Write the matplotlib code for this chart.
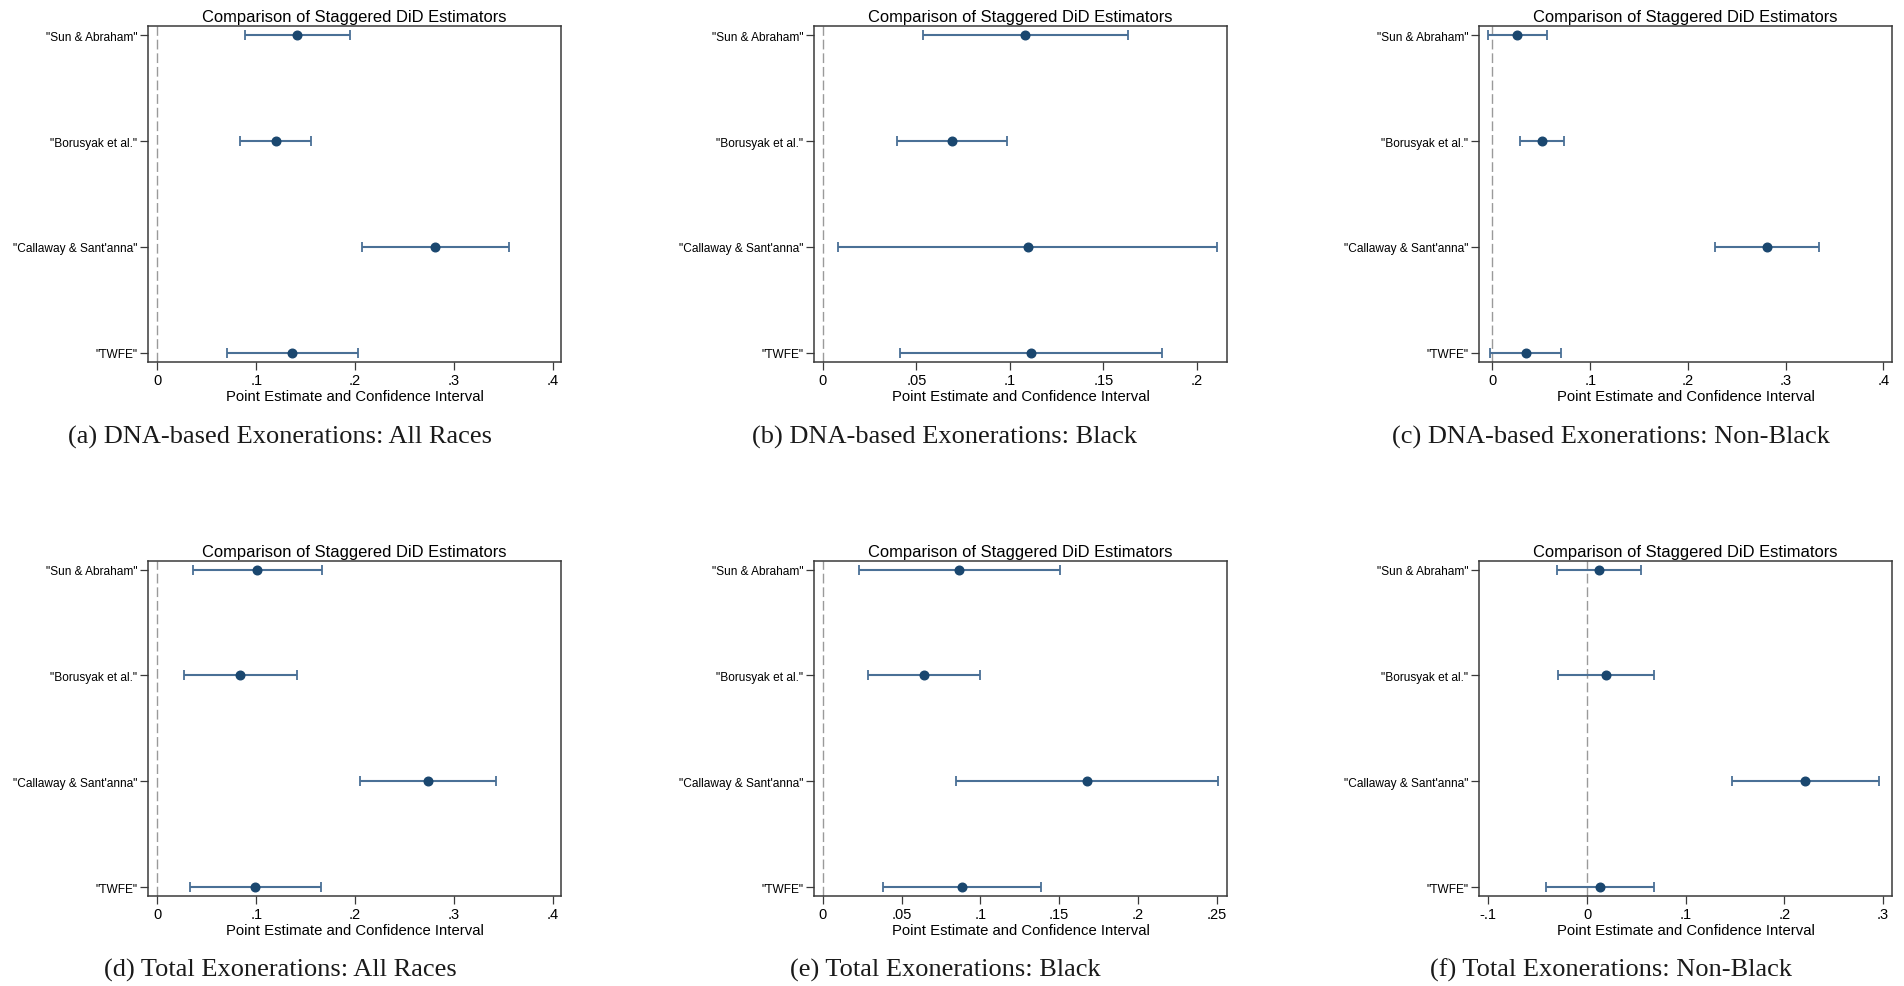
import matplotlib
matplotlib.use("Agg")
import matplotlib.pyplot as plt
from matplotlib.ticker import FixedLocator, FuncFormatter

# ---------------- data ----------------
estimators = ['"Sun & Abraham"', '"Borusyak et al."', '"Callaway & Sant\'anna"', '"TWFE"']

# (a) DNA-based Exonerations: All Races
est_a = [0.1417, 0.1197, 0.2809, 0.1363]
lo_a = [0.0890, 0.0837, 0.2067, 0.0704]
hi_a = [0.1947, 0.1553, 0.3554, 0.2026]
ticks_a = [0, 0.1, 0.2, 0.3, 0.4]

# (b) DNA-based Exonerations: Black
est_b = [0.1082, 0.0691, 0.1095, 0.1113]
lo_b = [0.0536, 0.0398, 0.0079, 0.0411]
hi_b = [0.1631, 0.0984, 0.2111, 0.1816]
ticks_b = [0, 0.05, 0.1, 0.15, 0.2]

# (c) DNA-based Exonerations: Non-Black
est_c = [0.0251, 0.0507, 0.2810, 0.0339]
lo_c = [-0.0046, 0.0285, 0.2274, -0.0029]
hi_c = [0.0557, 0.0733, 0.3338, 0.0704]
ticks_c = [0, 0.1, 0.2, 0.3, 0.4]

# (d) Total Exonerations: All Races
est_d = [0.1011, 0.0837, 0.2734, 0.0990]
lo_d = [0.0360, 0.0269, 0.2046, 0.0327]
hi_d = [0.1665, 0.1413, 0.3426, 0.1661]
ticks_d = [0, 0.1, 0.2, 0.3, 0.4]

# (e) Total Exonerations: Black
est_e = [0.0866, 0.0643, 0.1675, 0.0882]
lo_e = [0.0231, 0.0288, 0.0845, 0.0381]
hi_e = [0.1504, 0.0998, 0.2505, 0.1385]
ticks_e = [0, 0.05, 0.1, 0.15, 0.2, 0.25]

# (f) Total Exonerations: Non-Black
est_f = [0.0124, 0.0195, 0.2212, 0.0129]
lo_f = [-0.0303, -0.0290, 0.1469, -0.0411]
hi_f = [0.0552, 0.0680, 0.2963, 0.0676]
ticks_f = [-0.1, 0, 0.1, 0.2, 0.3]

captions = [
    "(a) DNA-based Exonerations: All Races",
    "(b) DNA-based Exonerations: Black",
    "(c) DNA-based Exonerations: Non-Black",
    "(d) Total Exonerations: All Races",
    "(e) Total Exonerations: Black",
    "(f) Total Exonerations: Non-Black",
]
xlims = [(-0.0095, 0.4085), (-0.0048, 0.2162), (-0.0138, 0.4088),
         (-0.0095, 0.4085), (-0.0057, 0.2565), (-0.1095, 0.3091)]

title_text = "Comparison of Staggered DiD Estimators"
xlabel_text = "Point Estimate and Confidence Interval"

# ---------------- style ----------------
W, H = 1904, 987
fig = plt.figure(figsize=(W / 100, H / 100), dpi=100)
fig.patch.set_facecolor("white")

sans = ["Liberation Sans", "DejaVu Sans"]
serif = ["Liberation Serif", "DejaVu Serif"]
MARKER = "#1a476f"
LINE = "#4a7096"
SPINE = "#3a3a3a"

col_left = [148, 814, 1479]
ax_w = 413
row_top = [27.3, 561.7]
ax_h = 335.4
cap_cx = [280, 945, 1611]
cap_cy = [437, 970]

def stata_fmt(v, pos=None):
    if abs(v) < 1e-12:
        return "0"
    s = ("%g" % v)
    s = s.replace("0.", ".")
    return s

panels = [
    (est_a, lo_a, hi_a, ticks_a),
    (est_b, lo_b, hi_b, ticks_b),
    (est_c, lo_c, hi_c, ticks_c),
    (est_d, lo_d, hi_d, ticks_d),
    (est_e, lo_e, hi_e, ticks_e),
    (est_f, lo_f, hi_f, ticks_f),
]

ypos = [4, 3, 2, 1]

for i, (est, lo, hi, ticks) in enumerate(panels):
    r, c = divmod(i, 3)
    left = col_left[c] / W
    bottom = (H - row_top[r] - ax_h) / H
    ax = fig.add_axes([left, bottom, ax_w / W, ax_h / H])

    ax.axvline(0, color="#9a9a9a", lw=1.0, ls=(0, (7, 2.8)), zorder=1)

    xerr = [[e - l for e, l in zip(est, lo)], [h - e for e, h in zip(est, hi)]]
    ax.errorbar(est, ypos, xerr=xerr, fmt="none", ecolor=LINE, elinewidth=1.5,
                capsize=3.6, capthick=1.3, zorder=2)
    ax.plot(est, ypos, "o", color=MARKER, markersize=6.2, zorder=3)

    ax.set_xlim(*xlims[i])
    ax.set_ylim(0.915, 4.085)
    ax.xaxis.set_major_locator(FixedLocator(ticks))
    ax.xaxis.set_major_formatter(FuncFormatter(stata_fmt))
    ax.set_yticks(ypos)
    ax.set_yticklabels(estimators, family=sans, fontsize=8.6)

    for lab in ax.get_xticklabels():
        lab.set_family(sans)
        lab.set_fontsize(10.5)
    ax.tick_params(axis="x", direction="out", length=5.5, width=0.9,
                   color=SPINE, pad=2.5)
    ax.tick_params(axis="y", direction="out", length=5.8, width=0.9,
                   color=SPINE, pad=1.8)

    for s in ax.spines.values():
        s.set_color(SPINE)
        s.set_linewidth(1.1)

    ax.set_title(title_text, family=sans, fontsize=11.9, pad=3.5)
    ax.set_xlabel(xlabel_text, family=sans, fontsize=10.7, labelpad=1.5)

    fig.text(cap_cx[c] / W, 1 - cap_cy[r] / H, captions[i], family=serif,
             fontsize=19, ha="center", va="center", color="#1a1a1a")

fig.savefig("out.png", dpi=100, facecolor="white")
